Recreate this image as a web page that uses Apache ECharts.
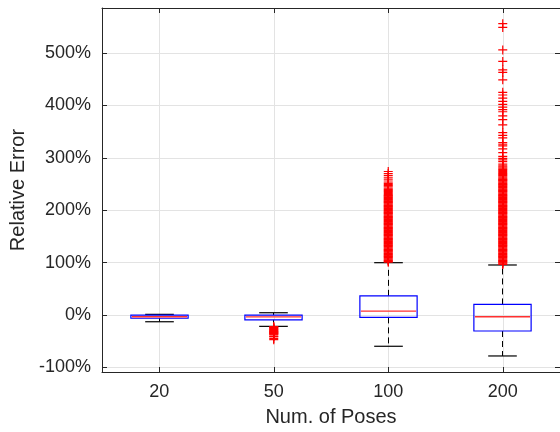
<!DOCTYPE html>
<html>
<head>
<meta charset="utf-8">
<script src="https://cdn.jsdelivr.net/npm/echarts@6/dist/echarts.min.js"></script>
<style>
  html, body { margin: 0; padding: 0; background: #fff; }
  #chart { width: 560px; height: 432px; }
</style>
</head>
<body>
<div id="chart"></div>
<script>
// box statistics per number of poses (values in %)
const categories = ['20', '50', '100', '200'];
const lowerWhisker = [-12.7, -21.5, -59.5, -78];
const lowerQuartile = [-6, -9, -4.4, -30.4];
const medians = [-3.2, -3.5, 7.6, -3.2];
const upperQuartile = [0, 0, 36.7, 20.3];
const upperWhisker = [1.4, 4.5, 100, 95.6];
const yTicks = [-100, 0, 100, 200, 300, 400, 500];

// outliers (dense parts estimated)
const outliers20 = [];
const outliers50 = [-22, -23, -24, -25.5, -26.5, -27.5, -28.5, -29.5, -30.5, -31.5, -32.5, -33.5,
  -34.5, -35.5, -36.5, -37.5, -40, -41, -44.5, -47];
const outliers100 = [101, 102.5, 104, 105.5, 107, 108.5, 110, 111.5, 113, 114.5, 116, 117.5, 119,
  120.5, 122, 123.5, 125, 126.5, 128, 129.5, 131, 132.5, 134, 135.5, 137, 138.5, 140, 141.5, 143,
  144.5, 146, 147.5, 149, 150.5, 152, 153.5, 155, 156.5, 158, 159.5, 161, 162.5, 164, 165.5, 167,
  168.5, 170, 171.5, 173, 174.5, 176, 177.5, 179, 180.5, 182, 183.5, 185, 186.5, 188, 189.5, 191,
  192.5, 194, 195.5, 197, 198.5, 200, 201.5, 203, 204.5, 206, 207.5, 209, 210.5, 212, 213.5, 215,
  216.5, 218, 219.5, 221, 222.5, 224, 225.5, 227, 228.5, 230, 232, 234, 236, 238, 240, 242, 244.5,
  247, 249, 251.5, 254, 258, 262, 266, 270, 274];
const outliers200 = [96.5, 98, 99.5, 101, 102.5, 104, 105.5, 107, 108.5, 110, 111.5, 113, 114.5, 116,
  117.5, 119, 120.5, 122, 123.5, 125, 126.5, 128, 129.5, 131, 132.5, 134, 135.5, 137, 138.5, 140,
  141.5, 143, 144.5, 146, 147.5, 149, 150.5, 152, 153.5, 155, 156.5, 158, 159.5, 161, 162.5, 164,
  165.5, 167, 168.5, 170, 171.5, 173, 174.5, 176, 177.5, 179, 180.5, 182, 183.5, 185, 186.5, 188,
  189.5, 191, 192.5, 194, 195.5, 197, 198.5, 200, 201.5, 203, 204.5, 206, 207.5, 209, 210.5, 212,
  213.5, 215, 216.5, 218, 219.5, 221, 222.5, 224, 225.5, 227, 228.5, 230, 231.5, 233, 234.5, 236,
  237.5, 239, 240.5, 242, 243.5, 245, 246.5, 248, 249.5, 251, 252.5, 254, 255.5, 257, 258.5, 260,
  262, 264, 266, 268, 270, 272, 274, 276, 278, 280.5, 283, 285,
  288, 293, 296, 299, 303, 310, 317, 323, 326, 329, 338, 343, 348, 363, 373, 380, 388, 392, 397,
  402, 408, 414, 420, 425, 449, 463, 468, 484, 506, 549, 556];

const textColor = '#262626';
const fontFamily = "'Liberation Sans', Arial, sans-serif";
const xTicks = [1, 2, 3, 4];

let boxData = categories.map((c, i) => [i + 1, lowerWhisker[i], lowerQuartile[i], medians[i],
  upperQuartile[i], upperWhisker[i]]);

let outlierData = [];
[outliers20, outliers50, outliers100, outliers200].forEach((list, i) => {
  list.forEach(v => outlierData.push([i + 1, v]));
});

function crisp(v) {
  return Math.round(v - 0.5) + 0.5;
}

function seg(x1, y1, x2, y2, color, width, dash) {
  return {
    type: 'line',
    shape: { x1: x1, y1: y1, x2: x2, y2: y2 },
    style: { stroke: color, lineWidth: width, fill: 'none', lineDash: dash || 'solid' }
  };
}

// MATLAB style box: blue box, red median, dashed black whiskers
function renderBox(params, api) {
  let x = api.value(0);
  let band = api.size([1, 0])[0];
  let cx = crisp(api.coord([x, 0])[0]);
  let y = [1, 2, 3, 4, 5].map(k => api.coord([x, api.value(k)])[1]);
  let left = cx - band * 0.25, right = cx + band * 0.25;
  let capL = cx - band * 0.125, capR = cx + band * 0.125;
  return {
    type: 'group',
    children: [
      seg(cx, y[3], cx, y[4], '#000', 1, [6, 4]),
      seg(cx, y[1], cx, y[0], '#000', 1, [6, 4]),
      seg(capL, y[4], capR, y[4], '#000', 1.2),
      seg(capL, y[0], capR, y[0], '#000', 1.2),
      {
        type: 'rect',
        shape: { x: left, y: y[3], width: right - left, height: y[1] - y[3] },
        style: { fill: 'none', stroke: '#0000ff', lineWidth: 1.2 }
      },
      seg(left + 1, y[2], right - 1, y[2], '#ff3030', 1.3)
    ]
  };
}

let chart = echarts.init(document.getElementById('chart'), null, { renderer: 'canvas' });

function axisBase(extra) {
  return Object.assign({
    axisLine: { show: true, onZero: false, lineStyle: { color: textColor, width: 1 } },
    splitLine: { show: false }
  }, extra);
}

function tickStyle(values) {
  return { show: true, inside: true, length: 5, customValues: values, lineStyle: { color: textColor } };
}

let option = {
  animation: false,
  backgroundColor: '#fff',
  textStyle: { fontFamily: fontFamily },
  grid: { left: 102, right: -1, top: 8, bottom: 58.5, containLabel: false },
  xAxis: [
    axisBase({
      type: 'value', position: 'bottom', min: 0.5, max: 4.5,
      axisTick: tickStyle(xTicks),
      axisLabel: {
        customValues: xTicks, margin: 11, fontSize: 18, color: textColor, fontFamily: fontFamily,
        formatter: v => categories[Math.round(v) - 1]
      },
      splitLine: { show: true, lineStyle: { color: '#e3e3e3', width: 1 } },
      name: 'Num. of Poses', nameLocation: 'middle', nameGap: 35,
      nameTextStyle: { fontSize: 20, color: textColor, fontFamily: fontFamily }
    }),
    axisBase({
      type: 'value', position: 'top', min: 0.5, max: 4.5,
      axisTick: tickStyle(xTicks),
      axisLabel: { show: false }
    })
  ],
  yAxis: [
    axisBase({
      type: 'value', position: 'left', min: -108.6, max: 586,
      axisTick: tickStyle(yTicks),
      axisLabel: {
        customValues: yTicks, margin: 11, fontSize: 18, color: textColor, fontFamily: fontFamily,
        formatter: v => v + '%'
      },
      splitLine: { show: true, lineStyle: { color: '#e3e3e3', width: 1 } },
      name: 'Relative Error', nameLocation: 'middle', nameGap: 65,
      nameTextStyle: { fontSize: 20, color: textColor, fontFamily: fontFamily }
    }),
    axisBase({
      type: 'value', position: 'right', min: -108.6, max: 586,
      axisTick: tickStyle(yTicks),
      axisLabel: { show: false }
    })
  ],
  series: [
    {
      type: 'custom',
      renderItem: renderBox,
      data: boxData,
      encode: { x: 0, y: [1, 2, 3, 4, 5] },
      z: 2,
      silent: true
    },
    {
      type: 'scatter',
      data: outlierData,
      symbol: 'path://M0,5L10,5M5,0L5,10',
      symbolSize: 9,
      itemStyle: { color: 'rgba(0,0,0,0)', borderColor: '#ff0000', borderWidth: 1.2, opacity: 1 },
      z: 6,
      silent: true
    }
  ]
};

chart.setOption(option);
</script>
</body>
</html>
